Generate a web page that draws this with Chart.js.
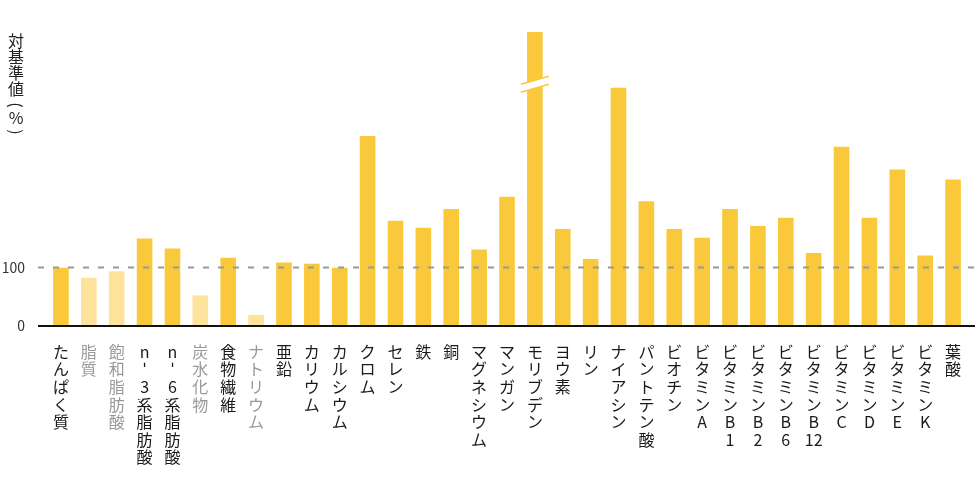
<!DOCTYPE html>
<html lang="ja">
<head>
  <meta charset="UTF-8">
  <title>対基準値</title>
  <script src="https://cdn.jsdelivr.net/npm/chart.js"></script>
  <style>
    html, body { margin: 0; padding: 0; background: #fff; }
    .chart-box { position: relative; width: 980px; height: 490px; }
  </style>
</head>
<body>
  <div class="chart-box">
    <canvas id="ratioChart"></canvas>
  </div>
  <script>
    // data
    const categories = ['たんぱく質', '脂質', '飽和脂肪酸', 'n-3系脂肪酸', 'n-6系脂肪酸', '炭水化物', '食物繊維', 'ナトリウム',
      '亜鉛', 'カリウム', 'カルシウム', 'クロム', 'セレン', '鉄', '銅', 'マグネシウム', 'マンガン', 'モリブデン', 'ヨウ素', 'リン',
      'ナイアシン', 'パントテン酸', 'ビオチン', 'ビタミンA', 'ビタミンB1', 'ビタミンB2', 'ビタミンB6', 'ビタミンB12',
      'ビタミンC', 'ビタミンD', 'ビタミンE', 'ビタミンK', '葉酸'];
    const values = [99, 82, 93, 149, 132, 52, 116, 19, 108, 106, 99, 323, 179, 167, 199, 130, 220, 600, 165, 114,
      405, 212, 165, 150, 199, 170, 184, 124, 305, 184, 266, 120, 249];
    const mutedItems = ['脂質', '飽和脂肪酸', '炭水化物', 'ナトリウム'];
    const yTicks = [0, 100];
    const yMax = 500;
    const refValue = 100;
    const brokenItem = 'モリブデン';
    const breakValue = 418;
    const yTitle = '対基準値(%)';

    const MAIN = '#fac93b';
    const LIGHT = '#fde39c';
    const FONT = '"Noto Sans CJK JP", "Noto Sans", sans-serif';

    const isMuted = i => mutedItems.includes(categories[i]);
    // one character per line, digit runs kept together (B12)
    const verticalLabel = s => s.match(/\d+|./gu).map(c => c === '-' ? 'ˈ' : c);

    const overlay = {
      id: 'overlay',
      afterDatasetsDraw(chart) {
        const { ctx, chartArea, scales } = chart;
        const left = chartArea.left - 9, right = chartArea.right + 8;

        // break mark on the clipped bar
        const bar = chart.getDatasetMeta(0).data[categories.indexOf(brokenItem)];
        const yb = scales.y.getPixelForValue(breakValue);
        const hw = 14, slope = 4, gap = 8;
        ctx.save();
        ctx.fillStyle = '#fff';
        ctx.beginPath();
        ctx.moveTo(bar.x - hw, yb + slope);
        ctx.lineTo(bar.x + hw, yb - slope);
        ctx.lineTo(bar.x + hw, yb - slope + gap);
        ctx.lineTo(bar.x - hw, yb + slope + gap);
        ctx.closePath();
        ctx.fill();
        ctx.strokeStyle = MAIN;
        ctx.lineWidth = 1.5;
        ctx.beginPath();
        ctx.moveTo(bar.x - hw, yb + slope);
        ctx.lineTo(bar.x + hw, yb - slope);
        ctx.moveTo(bar.x - hw, yb + slope + gap);
        ctx.lineTo(bar.x + hw, yb - slope + gap);
        ctx.stroke();

        // reference line
        const yr = Math.round(scales.y.getPixelForValue(refValue)) + 0.5;
        ctx.strokeStyle = '#999';
        ctx.lineWidth = 2;
        ctx.setLineDash([6, 9]);
        ctx.beginPath();
        ctx.moveTo(left, yr);
        ctx.lineTo(right, yr);
        ctx.stroke();

        // zero axis
        const y0 = scales.y.getPixelForValue(0);
        ctx.setLineDash([]);
        ctx.strokeStyle = '#111';
        ctx.lineWidth = 2;
        ctx.beginPath();
        ctx.moveTo(left, y0);
        ctx.lineTo(right, y0);
        ctx.stroke();

        // vertical axis title
        ctx.fillStyle = '#222';
        ctx.font = '16px ' + FONT;
        ctx.textAlign = 'center';
        ctx.textBaseline = 'middle';
        let y = 41;
        for (const ch of yTitle) {
          if (ch === '(' || ch === ')') {
            y += ch === '(' ? 0 : -2;
            ctx.save();
            ctx.translate(16, y);
            ctx.rotate(Math.PI / 2);
            ctx.fillText(ch, 0, 0);
            ctx.restore();
            y += 13;
          } else {
            ctx.fillText(ch, 16, y);
            y += 16;
          }
        }
        ctx.restore();
      }
    };

    new Chart(document.getElementById('ratioChart'), {
      type: 'bar',
      data: {
        labels: categories.map(verticalLabel),
        datasets: [{
          data: values,
          backgroundColor: values.map((v, i) => isMuted(i) ? LIGHT : MAIN),
          borderWidth: 0,
          categoryPercentage: 1,
          barPercentage: 0.56
        }]
      },
      options: {
        responsive: true,
        maintainAspectRatio: false,
        animation: false,
        layout: { padding: { top: 32, right: 13, left: 0, bottom: 0 } },
        plugins: {
          legend: { display: false },
          tooltip: { enabled: false }
        },
        scales: {
          x: {
            grid: { display: false, drawTicks: false },
            border: { display: false },
            afterFit: s => { s.height = 164; },
            ticks: {
              autoSkip: false,
              maxRotation: 0,
              minRotation: 0,
              padding: 17,
              color: c => isMuted(c.index) ? '#999' : '#1a1a1a',
              font: { family: FONT, size: 16, lineHeight: 1.1 }
            }
          },
          y: {
            min: 0,
            max: yMax,
            grid: { display: false, drawTicks: false },
            border: { display: false },
            afterFit: s => { s.width = 47; },
            afterBuildTicks: s => { s.ticks = yTicks.map(v => ({ value: v })); },
            ticks: {
              padding: 22,
              color: '#333',
              font: { family: FONT, size: 14 }
            }
          }
        }
      },
      plugins: [overlay]
    });
  </script>
</body>
</html>
